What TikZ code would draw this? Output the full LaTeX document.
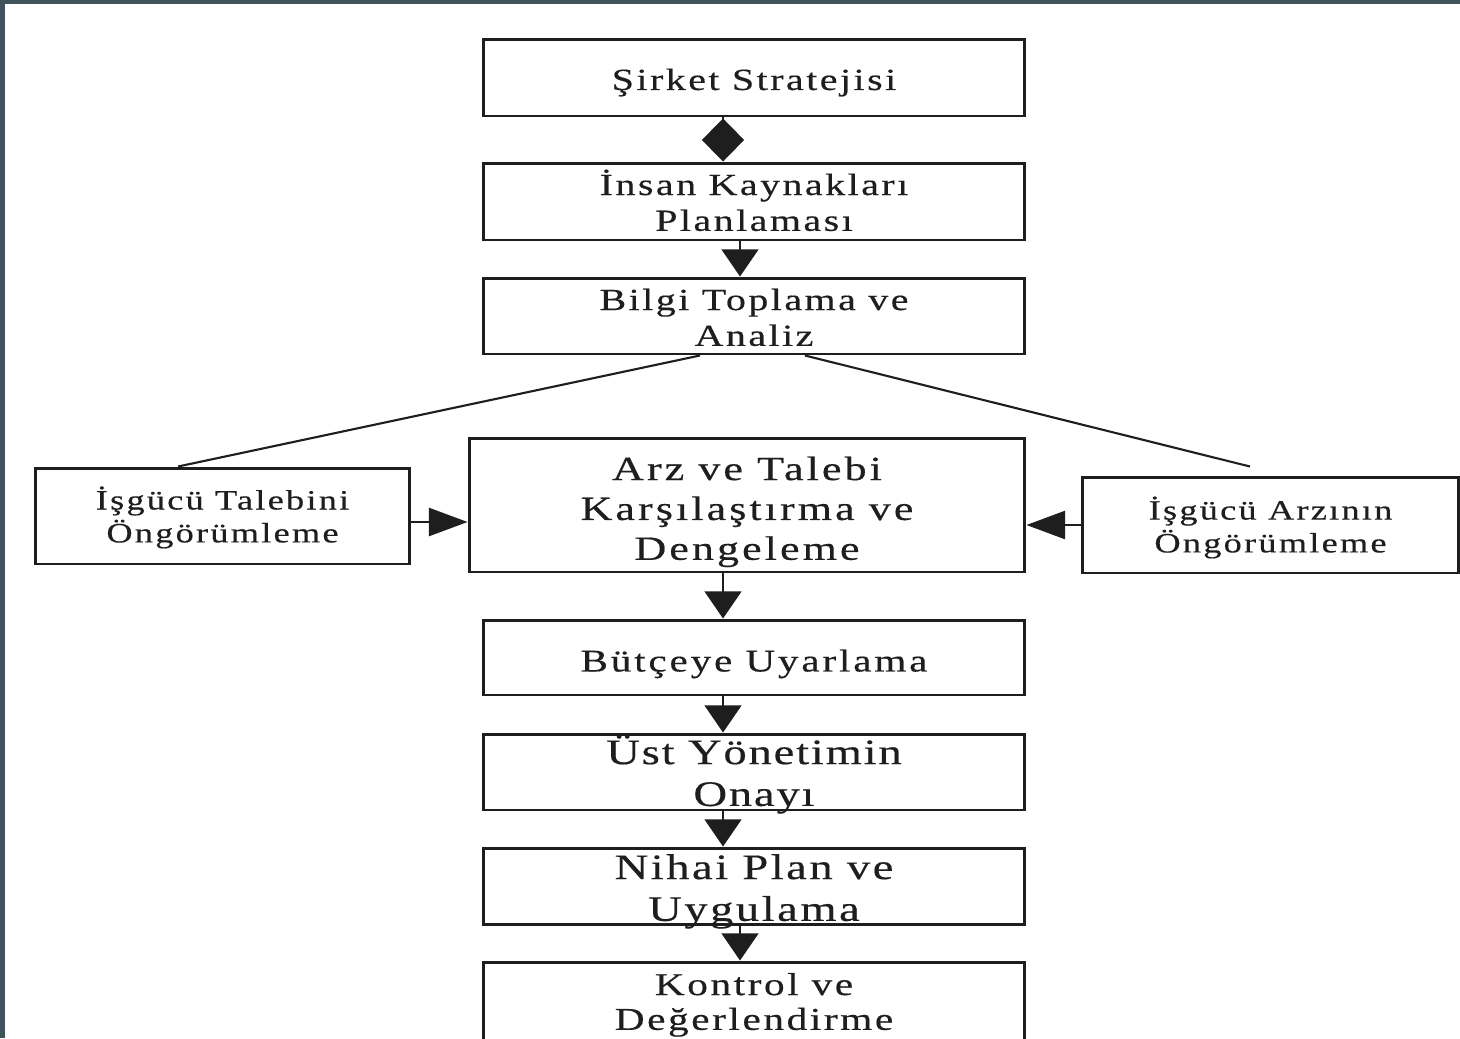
\documentclass[tikz,border=0pt]{standalone}
\usepackage{fontspec}
\setmainfont{Liberation Serif}
\newfontfamily\flowfont[FakeStretch=1.3, FakeBold=0.4]{Liberation Serif}
\usetikzlibrary{arrows.meta,calc}
\definecolor{cerceve}{HTML}{3F535C}
\definecolor{murekkep}{HTML}{1E1E1E}
% boyut, satir araligi, harf araligi
\newcommand\kutuyazi[3]{\flowfont\fontsize{#1}{#2}\selectfont\addfontfeatures{LetterSpace=#3}}
\begin{document}
\begin{tikzpicture}[x=0.02cm, y=-0.02cm,
    kutu/.style={draw=murekkep, line width=1.7pt, rectangle, align=center,
        inner xsep=-2cm, inner ysep=-2cm, text=murekkep,
        text height=33.4pt, text depth=0pt,
        minimum width=10.84cm, minimum height=1.54cm, font=\kutuyazi{17.5}{20.4}{8}},
    yan/.style={kutu, minimum width=7.5cm, minimum height=1.92cm, font=\kutuyazi{15.9}{18.7}{8}},
    ok/.style={draw=murekkep, line width=1.2pt, -{Triangle[width=21pt, length=15.5pt]}},
    yanok/.style={draw=murekkep, line width=1.2pt, -{Triangle[width=16pt, length=22pt]}},
    baglanti/.style={draw=murekkep, line width=1.2pt}]
    % zemin ve kenar
    \fill[cerceve] (0,0) rectangle (1460,1038);
    \fill[white] (5,4) rectangle (1460,1038);
    \clip (0,0) rectangle (1460,1038);

    % ana akis
    \node[kutu, text height=14.2pt] (strateji) at (754,77.5) {Şirket Stratejisi};
    \node[kutu] (ik) at (754,201.5) {İnsan Kaynakları\\Planlaması};
    \node[kutu, minimum height=1.52cm, text height=34pt] (bilgi) at (754,316) {Bilgi Toplama ve\\Analiz};

    % yan kutular
    \node[yan, text height=30pt] (talep) at (222.5,516) {İşgücü Talebini\\Öngörümleme};
    \node[kutu, minimum width=11.12cm, minimum height=2.68cm, text height=62.4pt,
        font=\kutuyazi{19.3}{22.7}{9}]
        (denge) at (747,505) {Arz ve Talebi\\Karşılaştırma ve\\Dengeleme};
    \node[yan, minimum width=7.54cm, text height=31.2pt] (arz) at (1270.5,525) {İşgücü Arzının\\Öngörümleme};

    % alt akis
    \node[kutu, minimum height=1.5cm, text height=15.9pt, font=\kutuyazi{18}{20.4}{9}] (butce) at (754,657.5) {Bütçeye Uyarlama};
    \node[kutu, minimum height=1.52cm, text height=38.6pt, font=\kutuyazi{20.4}{23.8}{5}] (onay) at (754,772) {Üst Yönetimin\\Onayı};
    \node[kutu, minimum height=1.52cm, text height=39.7pt, font=\kutuyazi{20.4}{23.8}{7}] (nihai) at (754,886) {Nihai Plan ve\\Uygulama};
    \node[kutu, minimum height=1.6cm, text height=31.7pt, font=\kutuyazi{18.1}{19.8}{8}]
        (kontrol) at (754,1002) {Kontrol ve\\Değerlendirme};

    % baglantilar
    \draw[baglanti, -{Diamond[width=24pt, length=24.5pt]}]
        ([xshift=-0.62cm]strateji.south) -- ([xshift=-0.62cm]ik.north);
    \draw[ok] ([xshift=-0.28cm]ik.south) -- ([xshift=-0.28cm]bilgi.north);
    \coordinate (arzucu) at ([xshift=-0.41cm, yshift=0.18cm]arz.north);
    \draw[baglanti] ([xshift=-1.08cm]bilgi.south) -- ([xshift=-0.89cm]talep.north);
    \draw[baglanti] ([xshift=1.02cm]bilgi.south) -- (arzucu);
    \draw[yanok] ([yshift=-0.12cm]talep.east) -- ([yshift=-0.12cm]talep.east -| denge.west);
    \draw[yanok] (arz.west) -- (arz.west -| denge.east);
    \draw[ok] ([xshift=-0.62cm]butce.north |- denge.south) -- ([xshift=-0.62cm]butce.north);
    \draw[ok] ([xshift=-0.62cm]butce.south) -- ([xshift=-0.62cm]onay.north);
    \draw[ok] ([xshift=-0.62cm]onay.south) -- ([xshift=-0.62cm]nihai.north);
    \draw[ok] ([xshift=-0.28cm]nihai.south) -- ([xshift=-0.28cm]kontrol.north);
\end{tikzpicture}
\end{document}
